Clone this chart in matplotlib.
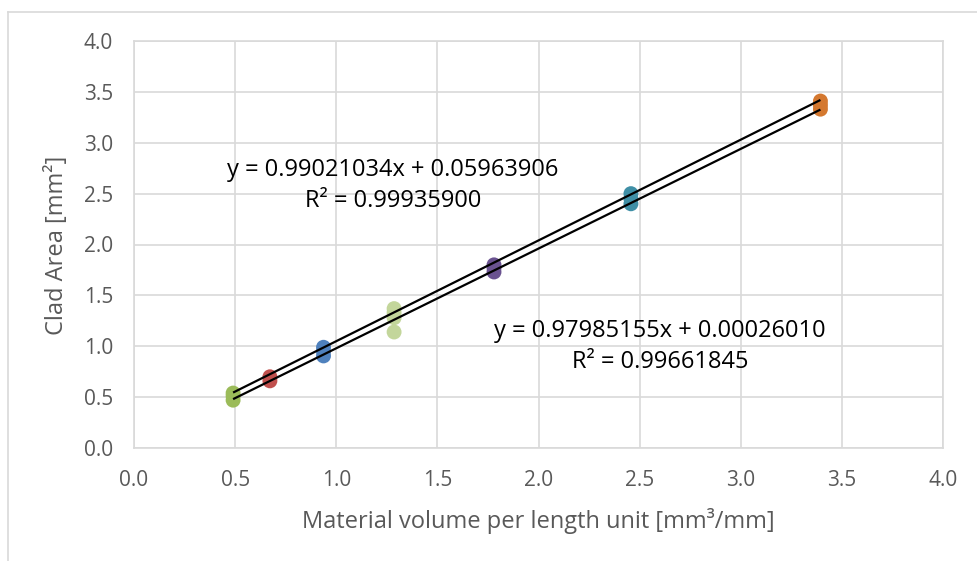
import matplotlib
matplotlib.use("Agg")
import matplotlib.pyplot as plt
from matplotlib.lines import Line2D

plt.rcParams['font.family'] = ['Open Sans', 'DejaVu Sans']

# Measured clusters: material volume per length unit vs clad area
cluster_x = [0.49, 0.672, 0.937, 1.286, 1.78, 2.457, 3.394]
cluster_y = [
    [0.47, 0.51, 0.54],
    [0.66, 0.70],
    [0.905, 0.95, 0.99],
    [1.14, 1.28, 1.33, 1.37],
    [1.73, 1.77, 1.80],
    [2.40, 2.45, 2.50],
    [3.33, 3.37, 3.41],
]
cluster_colors = ['#9bbb59', '#c0504d', '#4f81bd', '#c3d69b',
                  '#6a5290', '#3f8fa6', '#d4782f']

# Linear trendlines (slope, intercept, R²)
fit_upper = (0.99021034, 0.05963906, 0.99935900)
fit_lower = (0.97985155, 0.00026010, 0.99661845)

x_ticks = [0.0, 0.5, 1.0, 1.5, 2.0, 2.5, 3.0, 3.5, 4.0]
y_ticks = [0.0, 0.5, 1.0, 1.5, 2.0, 2.5, 3.0, 3.5, 4.0]

W, H = 977, 561
fig = plt.figure(figsize=(W / 100, H / 100), dpi=100)
ax = fig.add_axes([134 / W, (H - 448) / H, (943 - 134) / W, (448 - 41) / H])

grid_c = '#d9d9d9'
text_c = '#595959'

for x, ys, c in zip(cluster_x, cluster_y, cluster_colors):
    ax.scatter([x] * len(ys), ys, s=115, color=c, edgecolors='none', zorder=3)

x_lo, x_hi = min(cluster_x), max(cluster_x)
for slope, icpt, _ in (fit_upper, fit_lower):
    ax.plot([x_lo, x_hi], [slope * x_lo + icpt, slope * x_hi + icpt],
            color='black', lw=1.6, zorder=4, solid_capstyle='butt')

ax.text(1.281, 2.58,
        f"y = {fit_upper[0]:.8f}x + {fit_upper[1]:.8f}\nR² = {fit_upper[2]:.8f}",
        ha='center', va='center', fontsize=17, color='black', linespacing=1.4)
ax.text(2.601, 0.995,
        f"y = {fit_lower[0]:.8f}x + {fit_lower[1]:.8f}\nR² = {fit_lower[2]:.8f}",
        ha='center', va='center', fontsize=17, color='black', linespacing=1.4)

ax.set_xlim(0, 4)
ax.set_ylim(0, 4)
ax.set_xticks(x_ticks)
ax.set_yticks(y_ticks)
ax.set_xticklabels([f"{v:.1f}" for v in x_ticks])
ax.set_yticklabels([f"{v:.1f}" for v in y_ticks])
ax.tick_params(length=0, labelsize=15, labelcolor=text_c)
ax.tick_params(axis='x', pad=16)
ax.tick_params(axis='y', pad=15)
ax.grid(True, color=grid_c, lw=1.2)
ax.set_axisbelow(True)
for sp in ax.spines.values():
    sp.set_color(grid_c)
    sp.set_linewidth(1.2)

ax.set_xlabel("Material volume per length unit [mm³/mm]", fontsize=17,
              color=text_c, labelpad=12)
fig.text(57 / W, 1 - 245 / H, "Clad Area [mm²]", rotation=90, fontsize=17,
         color=text_c, ha='center', va='center')

# Outer chart frame (left and top edges)
fig.add_artist(Line2D([8 / W, 8 / W], [0, 1 - 12 / H], transform=fig.transFigure,
                      color=grid_c, lw=1.2))
fig.add_artist(Line2D([8 / W, 1], [1 - 12 / H, 1 - 12 / H], transform=fig.transFigure,
                      color=grid_c, lw=1.2))

fig.savefig("out.png", dpi=100)
